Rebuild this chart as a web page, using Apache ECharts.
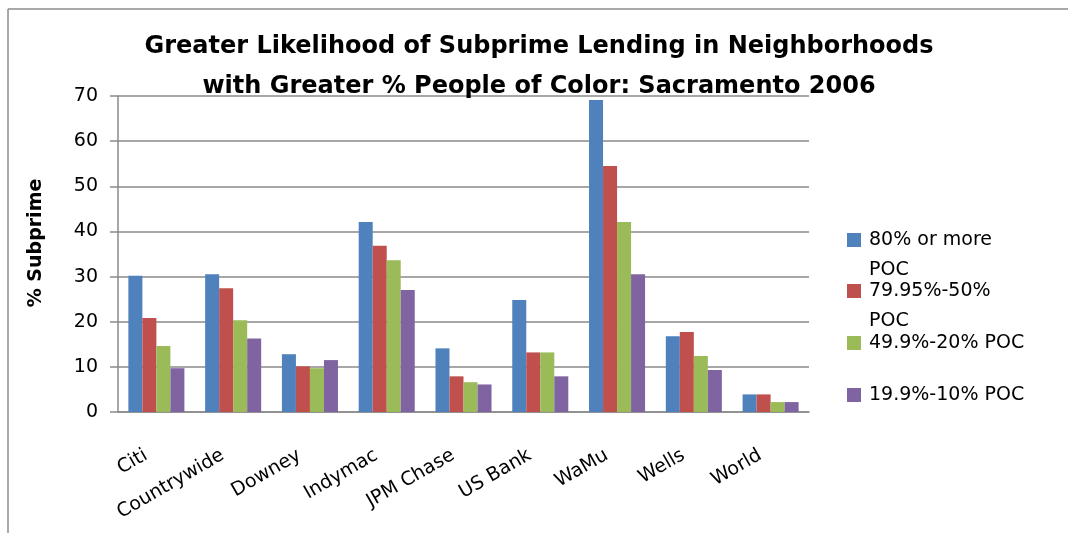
<!DOCTYPE html>
<html>
<head>
<meta charset="utf-8">
<script src="https://cdn.jsdelivr.net/npm/echarts@6/dist/echarts.min.js"></script>
<style>
html,body{margin:0;padding:0;background:#fff;}
#chart{width:1068px;height:533px;}
</style>
</head>
<body>
<div id="chart"></div>
<script>
const categories = ['Citi','Countrywide','Downey','Indymac','JPM Chase','US Bank','WaMu','Wells','World'];
const seriesNames = ['80% or more POC','79.95%-50% POC','49.9%-20% POC','19.9%-10% POC'];
const poc80plus = [30.2, 30.5, 12.8, 42.1, 14.1, 24.8, 69.1, 16.8, 3.9];
const poc50to80 = [20.8, 27.4, 10.1, 36.8, 7.9, 13.2, 54.5, 17.7, 3.9];
const poc20to50 = [14.6, 20.3, 9.7, 33.6, 6.6, 13.2, 42.1, 12.4, 2.2];
const poc10to20 = [9.7, 16.3, 11.5, 27.0, 6.1, 7.9, 30.5, 9.3, 2.2];
const yTicks = {min: 0, max: 70, interval: 10};

const FONT = 'DejaVu Sans';
const colors = ['#4F81BD','#C0504D','#9BBB59','#8064A2'];
const values = [poc80plus, poc50to80, poc20to50, poc10to20];

const legendDefs = [
  {y: 240, fmt: ' \n80% or more\nPOC'},
  {y: 291, fmt: ' \n79.95%-50%\nPOC'},
  {y: 343, fmt: '49.9%-20% POC'},
  {y: 395, fmt: '19.9%-10% POC'}
];

const chart = echarts.init(document.getElementById('chart'), null, {renderer: 'canvas'});
const option = {
  backgroundColor: '#fff',
  animation: false,
  textStyle: {fontFamily: FONT},
  title: {
    text: 'Greater Likelihood of Subprime Lending in Neighborhoods\nwith Greater % People of Color: Sacramento 2006',
    left: 534, textAlign: 'center', top: 22,
    textStyle: {fontFamily: FONT, fontSize: 24, fontWeight: 'bold', color: '#000', lineHeight: 40}
  },
  legend: legendDefs.map((d, i) => {
    const lines = d.fmt.split('\n').length;
    return {
      data: [seriesNames[i]],
      left: 847,
      top: d.y - lines * 30 / 2,
      padding: 0,
      itemWidth: 14, itemHeight: 14,
      icon: 'rect',
      formatter: () => d.fmt,
      textStyle: {fontFamily: FONT, fontSize: 19, color: '#000', lineHeight: 30, padding: [0,0,0,3]}
    };
  }),
  grid: {left: 118, right: 259, top: 96, bottom: 121},
  xAxis: {
    type: 'category',
    data: categories,
    axisLine: {lineStyle: {color: '#8a8a8a', width: 1.5}},
    axisTick: {show: false},
    axisLabel: {rotate: 30, margin: 36, fontFamily: FONT, fontSize: 19, color: '#000', interval: 0, padding: [0, 12, 0, 0]}
  },
  yAxis: {
    type: 'value',
    min: yTicks.min, max: yTicks.max, interval: yTicks.interval,
    name: '% Subprime',
    nameLocation: 'middle', nameGap: 72, nameRotate: 90,
    nameTextStyle: {fontFamily: FONT, fontSize: 19, fontWeight: 'bold', color: '#000', padding: [0,0,0,22]},
    axisLine: {show: true, lineStyle: {color: '#8a8a8a', width: 1.5}},
    axisTick: {show: true, length: 8, lineStyle: {color: '#8a8a8a', width: 1.5}},
    axisLabel: {margin: 20, fontFamily: FONT, fontSize: 19, color: '#000'},
    splitLine: {lineStyle: {color: '#8a8a8a', width: 1.5}}
  },
  series: values.map((v, i) => ({
    name: seriesNames[i],
    type: 'bar',
    data: v,
    barGap: '0%',
    barCategoryGap: '27%',
    itemStyle: {color: colors[i]}
  })),
  graphic: [
    {type: 'line', silent: true, shape: {x1: 8, y1: 9, x2: 1068, y2: 9}, style: {stroke: '#8c8c8c', lineWidth: 1.5}},
    {type: 'line', silent: true, shape: {x1: 8, y1: 9, x2: 8, y2: 533}, style: {stroke: '#8c8c8c', lineWidth: 1.5}}
  ]
};
chart.setOption(option);
</script>
</body>
</html>
